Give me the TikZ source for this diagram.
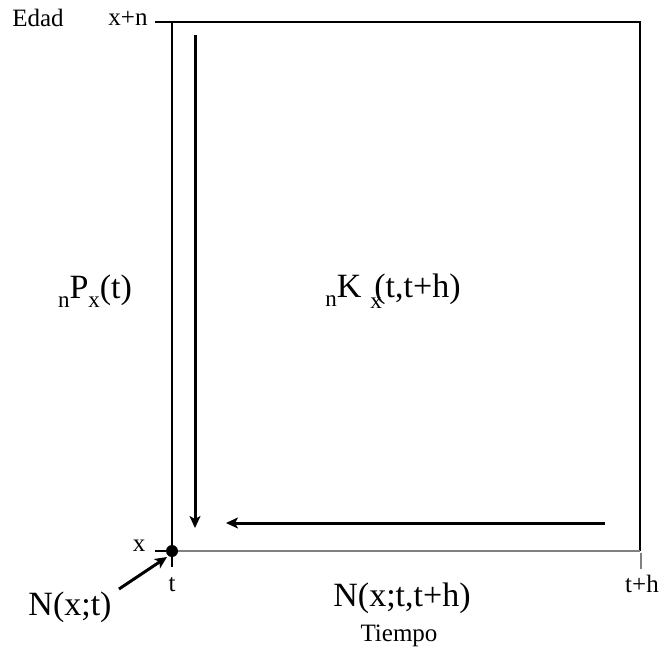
\documentclass[tikz,border=0pt]{standalone}
\usepackage{fontspec}
\setmainfont{Liberation Serif}
\usetikzlibrary{arrows.meta}
\newcommand{\bigf}{\fontsize{34}{34}\selectfont}
\newcommand{\smallf}{\fontsize{25}{25}\selectfont}
\newcommand{\subf}{\fontsize{23}{23}\selectfont}
\begin{document}
\begin{tikzpicture}[x=1pt,y=-1pt,
  lbl/.style={inner sep=0pt,font=\smallf},
  big/.style={inner sep=0pt,font=\bigf},
  arr/.style={line width=3pt,-{Stealth[length=12pt,width=11pt,inset=3pt]}},
  frame/.style={line width=1.2pt}]
\useasboundingbox (0,0) rectangle (664,654);
\coordinate (tl) at (172,22);
\coordinate (tr) at (640,22);
\coordinate (bl) at (172,551);
\coordinate (br) at (640,551);
\coordinate (xt) at (155,551);
\coordinate (nt) at (155,22);
\coordinate (tt) at (172,567);
\coordinate (th1) at (641,553);
\coordinate (th2) at (641,569);
\draw[frame] (nt) -- (tr) -- (br);
\draw[frame] (tl) -- (bl);
\draw[frame,gray] (bl) -- (br);
\draw[frame] (xt) -- (bl) -- (tt);
\draw[frame,gray] (th1) -- (th2);
\fill (bl) circle (6);
% arrows
\coordinate (va1) at (195,35);
\coordinate (va2) at (195,528);
\coordinate (ha1) at (605,523);
\coordinate (ha2) at (226,523);
\coordinate (da1) at (119,589);
\coordinate (da2) at (167,557);
\draw[arr] (va1) -- (va2);
\draw[arr] (ha1) -- (ha2);
\draw[arr] (da1) -- (da2);
% labels
\node[lbl] (edad) at (38,18) {Edad};
\node[lbl] (xn) at (128,18) {x+n};
\node[lbl] (xl) at (139,546) {x};
\node[lbl] (tl2) at (172,585) {t};
\node[lbl] (thl) at (642,584) {t+h};
\node[lbl] (tiempo) at (399,636) {Tiempo};
\node[big] (nxt) at (70,607) {N(x;t)};
\node[big] (nxth) at (402,598) {N(x;t,t+h)};
\node[big] (npx) at (95,291) {\raisebox{-9pt}{\subf n}P\raisebox{-9pt}{\subf x}(t)};
\node[big] (nkx) at (393,291) {\raisebox{-9pt}{\subf n}K\hspace{9pt}\rlap{\raisebox{-11pt}{\subf x}}\hspace{4pt}(t,t+h)};
\end{tikzpicture}
\end{document}
